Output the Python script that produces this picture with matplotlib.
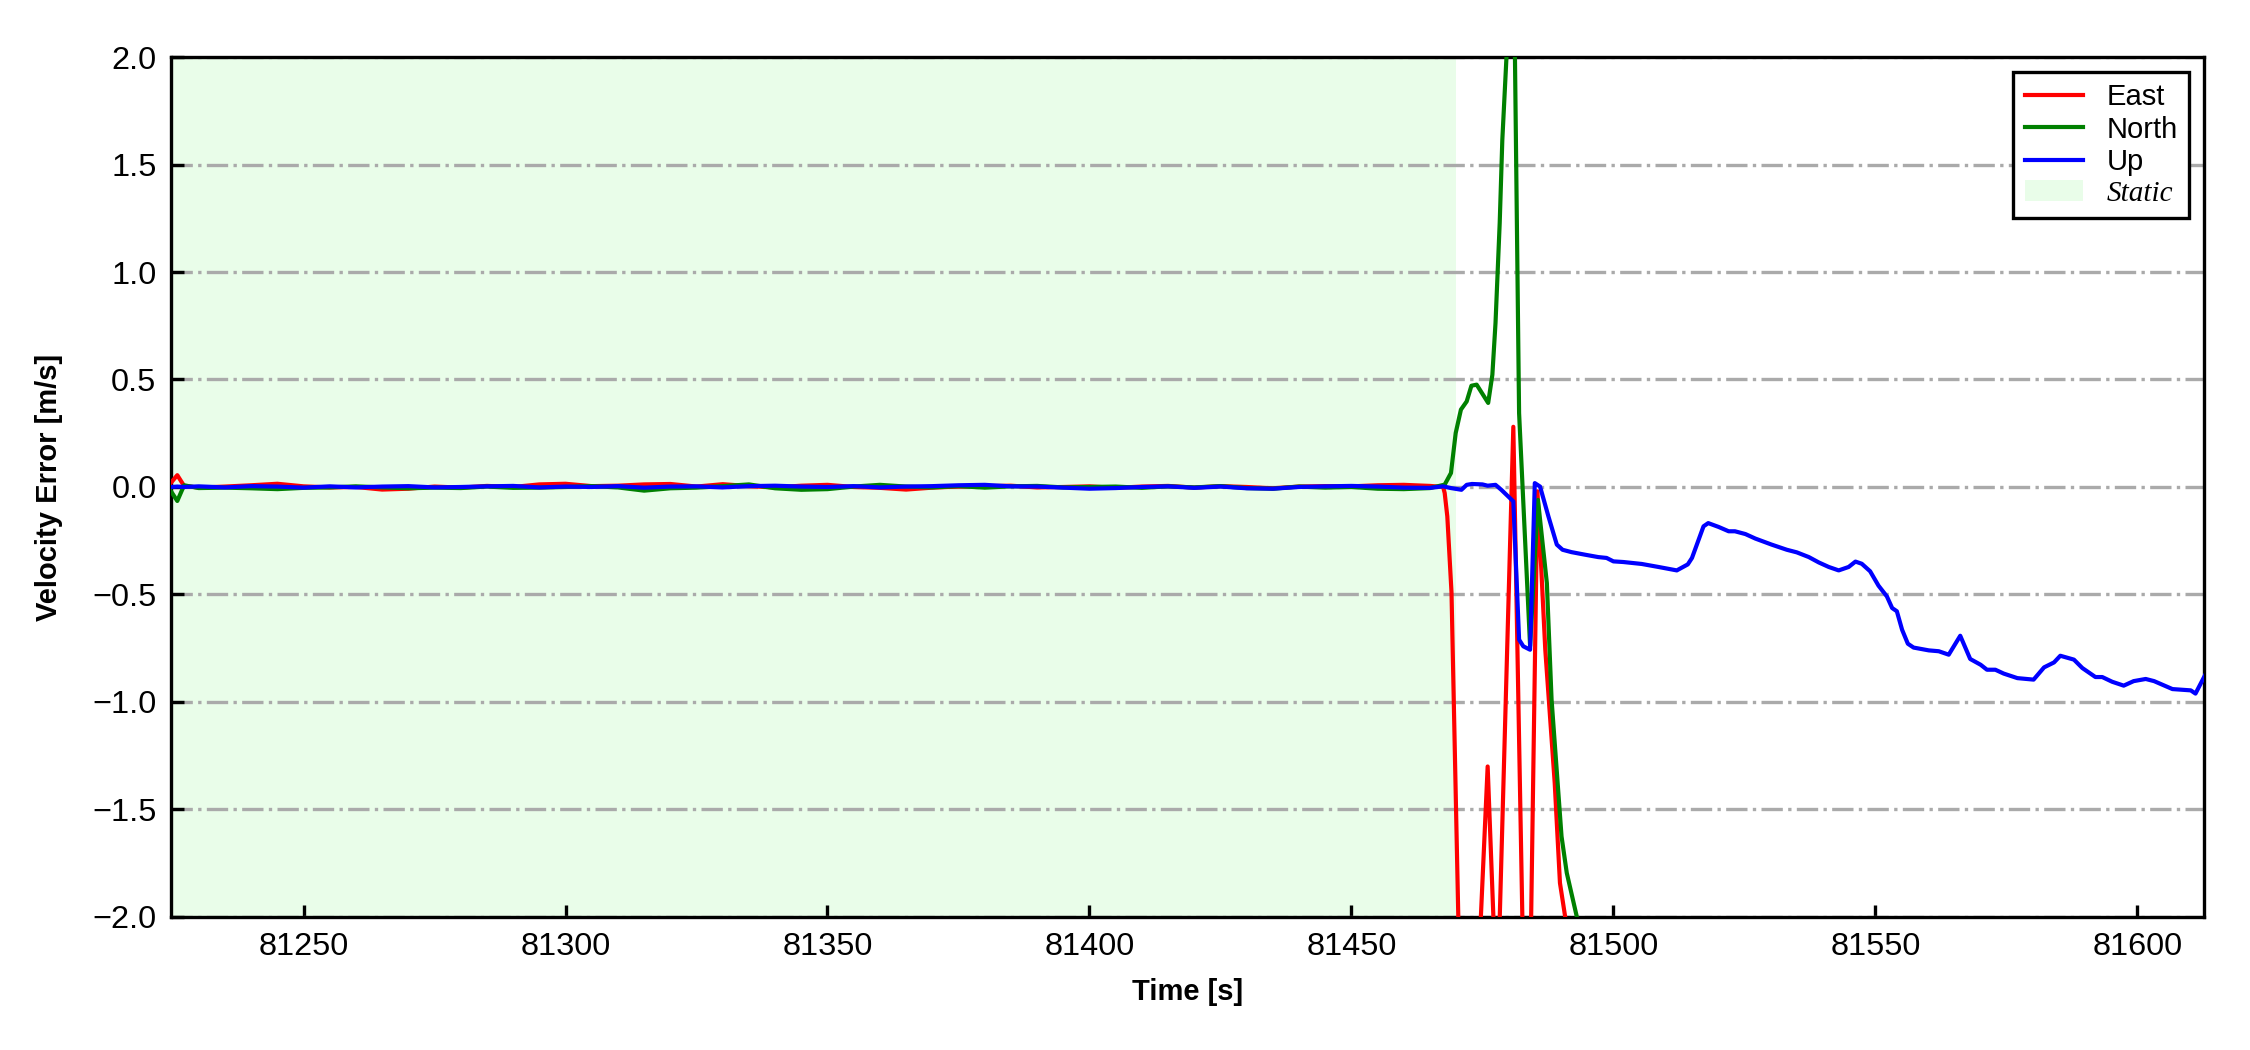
import matplotlib
matplotlib.use("Agg")
import matplotlib.pyplot as plt
from matplotlib.patches import Patch
from matplotlib.lines import Line2D

# ---------------- data ----------------
# static period (common time base)
t_static = [81224.7, 81225.9, 81227.2, 81230, 81235, 81240, 81245, 81250, 81255, 81260,
            81265, 81270, 81275, 81280, 81285, 81290, 81295, 81300, 81305, 81310,
            81315, 81320, 81325, 81330, 81335, 81340, 81345, 81350, 81355, 81360,
            81365, 81370, 81375, 81380, 81385, 81390, 81395, 81400, 81405, 81410,
            81415, 81420, 81425, 81430, 81435, 81440, 81445, 81450, 81455, 81460,
            81465]
east_static = [0.02, 0.055, 0.005, -0.003, 0.002, 0.008, 0.015, 0.003, -0.002, 0.0,
               -0.012, -0.008, 0.002, -0.003, 0.005, 0.0, 0.012, 0.015, 0.004, 0.006,
               0.012, 0.014, 0.002, 0.013, 0.004, -0.002, 0.006, 0.01, 0.0, -0.004,
               -0.012, -0.003, 0.002, 0.004, 0.006, -0.002, 0.0, 0.003, -0.004, 0.002,
               0.005, -0.003, 0.004, 0.0, -0.006, 0.002, 0.004, 0.003, 0.008, 0.01,
               0.005]
north_static = [-0.02, -0.065, 0.008, -0.005, -0.003, -0.006, -0.01, -0.004, -0.002, 0.003,
                -0.002, -0.006, -0.003, -0.005, 0.002, -0.004, -0.003, 0.0, 0.004, -0.002,
                -0.017, -0.006, -0.003, 0.004, 0.012, -0.006, -0.013, -0.01, 0.002, 0.01,
                0.002, -0.002, 0.004, -0.003, 0.003, 0.005, -0.002, 0.0, 0.002, -0.004,
                0.003, -0.002, 0.004, -0.005, -0.008, 0.002, -0.003, 0.0, -0.008, -0.01,
                -0.005]
up_static = [0.0, 0.002, 0.0, 0.003, -0.002, 0.004, 0.002, -0.003, 0.003, -0.002,
             0.002, 0.004, -0.002, 0.0, 0.003, 0.005, -0.002, 0.002, 0.0, 0.004,
             -0.003, 0.002, 0.003, -0.002, 0.004, 0.006, 0.002, 0.0, 0.004, -0.002,
             0.002, 0.004, 0.008, 0.010, 0.003, 0.002, -0.003, -0.008, -0.005, 0.0,
             0.003, -0.004, 0.002, -0.006, -0.008, 0.0, 0.003, 0.005, 0.002, -0.003,
             -0.004]

# after the static period
t_east = [81467.5, 81467.8, 81468.3, 81469.1, 81471.0, 81474.0, 81476.0, 81477.8,
          81480.9, 81483.0, 81484.0, 81485.5, 81487.0, 81488.8, 81489.8, 81490.8, 81491.6]
east_dyn = [0.0, -0.028, -0.137, -0.49, -2.7, -2.38, -1.30, -2.45,
            0.28, -2.5, -2.5, -0.02, -0.757, -1.377, -1.842, -2.0, -2.6]

t_north = [81467.8, 81469.0, 81469.9, 81470.9, 81472.0, 81472.9, 81473.9, 81476.1,
           81476.9, 81477.5, 81478.3, 81478.8, 81479.8, 81480.9, 81482.0, 81484.1,
           81485.6, 81487.3, 81488.2, 81490.1, 81491.1, 81493.0, 81494.0]
north_dyn = [0.011, 0.065, 0.251, 0.36, 0.398, 0.471, 0.476, 0.391,
             0.522, 0.763, 1.228, 1.615, 2.1, 2.65, 0.344, -0.74,
             -0.06, -0.447, -0.989, -1.625, -1.795, -1.997, -2.3]

t_up = [81467.5, 81469.0, 81471.0, 81472.0, 81473.0, 81475.0, 81476.0, 81477.5,
        81478.6, 81480.9, 81482.0, 81482.8, 81484.1, 81485.0, 81486.0, 81487.6,
        81489.2, 81490.3, 81492.0, 81494.6, 81497.1, 81498.7, 81500.0, 81501.9,
        81505.4, 81508.6, 81512.1, 81514.2, 81515.0, 81517.2, 81518.1, 81520.1,
        81522.0, 81523.2, 81525.2, 81527.1, 81530.2, 81533.1, 81535.0, 81537.3,
        81539.2, 81541.1, 81543.0, 81544.9, 81546.2, 81547.4, 81549.0, 81550.6,
        81552.2, 81553.2, 81554.1, 81555.1, 81556.2, 81557.3, 81560.2, 81562.1,
        81564.0, 81566.2, 81568.1, 81570.1, 81571.3, 81572.9, 81574.5, 81577.1,
        81580.2, 81582.2, 81584.1, 81585.3, 81587.9, 81589.5, 81592.0, 81593.3,
        81595.2, 81597.4, 81599.3, 81601.6, 81603.2, 81604.8, 81606.7, 81608.6,
        81610.2, 81611.1, 81613.4]
up_dyn = [0.003, -0.005, -0.013, 0.01, 0.014, 0.012, 0.006, 0.01,
          -0.013, -0.067, -0.71, -0.741, -0.757, 0.018, 0.002, -0.137,
          -0.268, -0.292, -0.303, -0.315, -0.326, -0.33, -0.346, -0.349,
          -0.358, -0.372, -0.388, -0.36, -0.33, -0.183, -0.168, -0.186,
          -0.206, -0.206, -0.219, -0.240, -0.268, -0.292, -0.304, -0.326,
          -0.351, -0.372, -0.388, -0.372, -0.347, -0.357, -0.392, -0.459,
          -0.509, -0.563, -0.578, -0.664, -0.729, -0.747, -0.760, -0.764,
          -0.780, -0.692, -0.800, -0.827, -0.850, -0.850, -0.868, -0.889,
          -0.896, -0.839, -0.816, -0.785, -0.803, -0.842, -0.884, -0.884,
          -0.906, -0.924, -0.903, -0.893, -0.903, -0.920, -0.940, -0.943,
          -0.946, -0.961, -0.853]

static_start, static_end = 81224.7, 81470.0
x_limits = (81224.7, 81612.7)
x_ticks = [81250, 81300, 81350, 81400, 81450, 81500, 81550, 81600]
y_ticks = [-2.0, -1.5, -1.0, -0.5, 0.0, 0.5, 1.0, 1.5, 2.0]

# ---------------- plot ----------------
plt.rcParams['font.family'] = ['Liberation Sans', 'DejaVu Sans']
static_color = '#e9fde9'

fig = plt.figure(figsize=(7.5, 3.5), dpi=300)
ax = fig.add_axes([0.076, 0.1267, 0.9035, 0.819])

ax.axvspan(static_start, static_end, color=static_color, lw=0, zorder=0)

lw = 1.0
ax.plot(t_static + t_east, east_static + east_dyn, color='red', lw=lw, zorder=3)
ax.plot(t_static + t_north, north_static + north_dyn, color='green', lw=lw, zorder=3)
ax.plot(t_static + t_up, up_static + up_dyn, color='blue', lw=lw, zorder=3)

ax.set_xlim(*x_limits)
ax.set_ylim(-2.0, 2.0)
ax.set_xticks(x_ticks)
ax.set_yticks(y_ticks)
ax.grid(axis='y', linestyle='-.', color='#aaaaaa', linewidth=0.8, zorder=1)
ax.tick_params(direction='in', length=3, width=0.8, labelsize=7.8,
               top=False, right=False, pad=3.5)
for s in ax.spines.values():
    s.set_linewidth(0.8)

ax.set_xlabel('Time [s]', fontsize=7, fontweight='bold', labelpad=4)
ax.set_ylabel('Velocity Error [m/s]', fontsize=7, fontweight='bold', labelpad=7)

handles = [Line2D([], [], color='red', lw=lw),
           Line2D([], [], color='green', lw=lw),
           Line2D([], [], color='blue', lw=lw),
           Patch(facecolor=static_color, edgecolor='none')]
labels = ['East', 'North', 'Up', 'Static']
leg = ax.legend(handles, labels, loc='upper right', fontsize=7, fancybox=False,
                framealpha=1, edgecolor='black', borderaxespad=0.5,
                handlelength=2.0, labelspacing=0.15, borderpad=0.4)
leg.get_frame().set_linewidth(0.8)
txt = leg.get_texts()[3]
txt.set_family(['Liberation Serif', 'DejaVu Serif'])
txt.set_style('italic')

fig.savefig('out.png', dpi=300)
